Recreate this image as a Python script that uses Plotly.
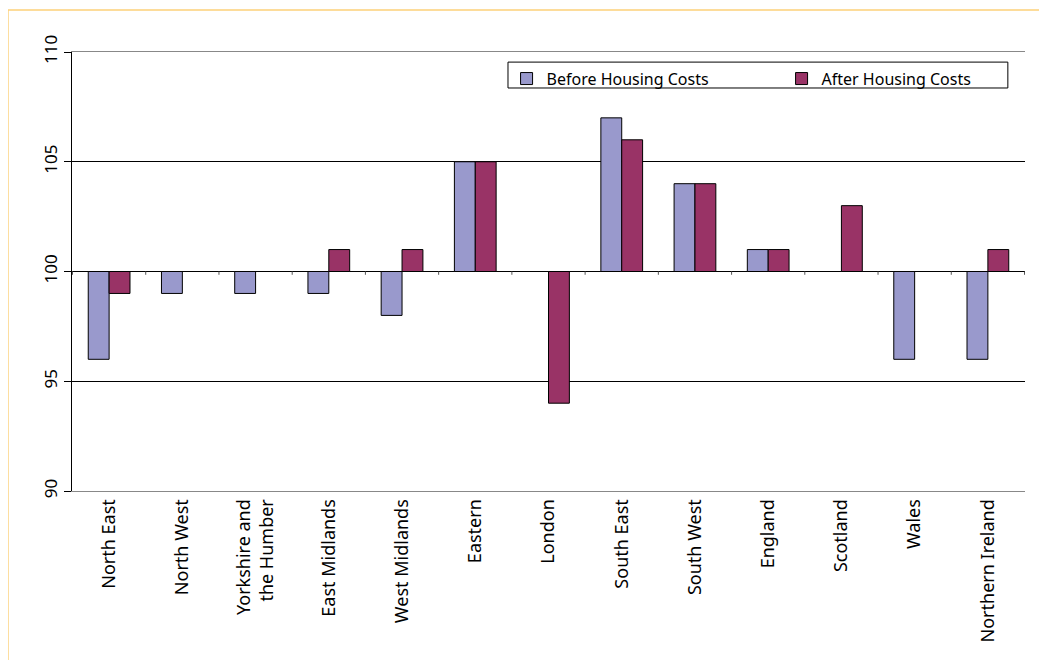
import plotly.graph_objects as go

regions = ["North East", "North West", "Yorkshire and<br>the Humber", "East Midlands",
           "West Midlands", "Eastern", "London", "South East", "South West",
           "England", "Scotland", "Wales", "Northern Ireland"]
before_hc = [96, 99, 99, 99, 98, 105, 100, 107, 104, 101, 100, 96, 96]
after_hc = [99, 100, 100, 101, 101, 105, 94, 106, 104, 101, 103, 100, 101]
base_value = 100

FONT = "Noto Sans, Open Sans, DejaVu Sans, sans-serif"

fig = go.Figure()

# bars measured from the 100 baseline
fig.add_trace(go.Bar(
    x=regions,
    y=[v - base_value for v in before_hc],
    base=base_value,
    name="Before Housing Costs",
    marker=dict(color="#9999CC", line=dict(color="#000000", width=1)),
))
fig.add_trace(go.Bar(
    x=regions,
    y=[v - base_value for v in after_hc],
    base=base_value,
    name="After Housing Costs",
    marker=dict(color="#993366", line=dict(color="#000000", width=1)),
))

# small category ticks along the 100 line
for i in range(len(regions) + 1):
    fig.add_shape(type="line", xref="x", yref="y",
                  x0=i - 0.5, x1=i - 0.5, y0=base_value, y1=base_value - 0.15,
                  line=dict(color="#555555", width=1), layer="above")

fig.add_shape(type="line", xref="paper", yref="y", x0=0, x1=1,
              y0=base_value, y1=base_value,
              line=dict(color="#000000", width=1), layer="below")

# legend box
fig.add_shape(type="rect", xref="paper", yref="paper",
              x0=0.4575, x1=0.982, y0=0.918, y1=0.977,
              line=dict(color="#000000", width=1), fillcolor="white", layer="below")

# outer orange frame
fig.add_shape(type="rect", xref="paper", yref="paper",
              x0=-0.0672, x1=1.03, y0=-0.40, y1=1.0957,
              line=dict(color="#FDD17A", width=1.5))

fig.update_layout(
    width=1047, height=660,
    margin=dict(l=64, r=30, t=44, b=177, autoexpand=False),
    plot_bgcolor="white", paper_bgcolor="white",
    font=dict(family=FONT, size=16, color="#000000"),
    barmode="group",
    bargap=0.43,
    bargroupgap=0,
    showlegend=True,
    legend=dict(
        orientation="h",
        x=0.456, y=0.978, xanchor="left", yanchor="top",
        bgcolor="rgba(0,0,0,0)",
        borderwidth=0,
        font=dict(size=16),
        entrywidth=230,
        itemwidth=30,
    ),
    xaxis=dict(
        tickangle=-90,
        showline=True, linecolor="#888888", mirror=True,
        showgrid=False, ticks="",
        tickfont=dict(size=18),
    ),
    yaxis=dict(
        range=[90, 110],
        dtick=5,
        tickangle=-90,
        ticks="outside", ticklen=7, tickcolor="#000000",
        showline=True, linecolor="#000000",
        showgrid=True, gridcolor="#000000", gridwidth=1,
        zeroline=False,
        tickfont=dict(size=17),
    ),
)

fig.write_html("out.html")
